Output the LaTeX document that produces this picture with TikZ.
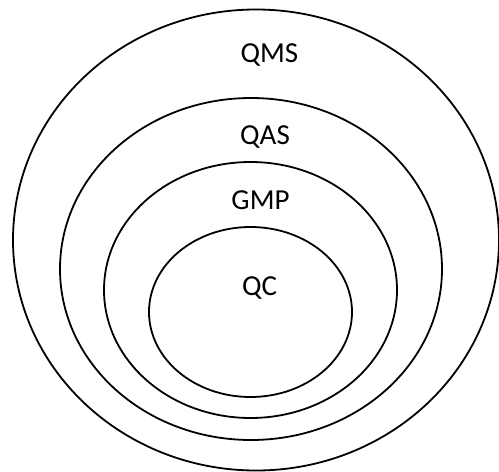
\documentclass[tikz,border=0pt]{standalone}
\usepackage{fontspec}
\setmainfont{Carlito}
\usepackage{tikz}

\begin{document}
\begin{tikzpicture}[x=1pt, y=-1pt, line width=1.8pt]
        \useasboundingbox (0, 0) rectangle (499, 472);
        \tikzset{lbl/.style={anchor=base, inner sep=0pt, font=\fontsize{29}{33}\selectfont}}

        \draw (256, 240) ellipse (243 and 230.5);
        \draw (251, 269) ellipse (191 and 171);
        \draw (250.5, 290) ellipse (146.5 and 128);
        \draw (250.5, 312) ellipse (101.5 and 85);

        \node[lbl] (qms) at (269.5, 62.7) {QMS};
        \node[lbl] (qas) at (265, 144.3) {QAS};
        \node[lbl] (gmp) at (260.5, 209.3) {GMP};
        \node[lbl] (qc) at (259.5, 295.7) {QC};
    \end{tikzpicture}
\end{document}
